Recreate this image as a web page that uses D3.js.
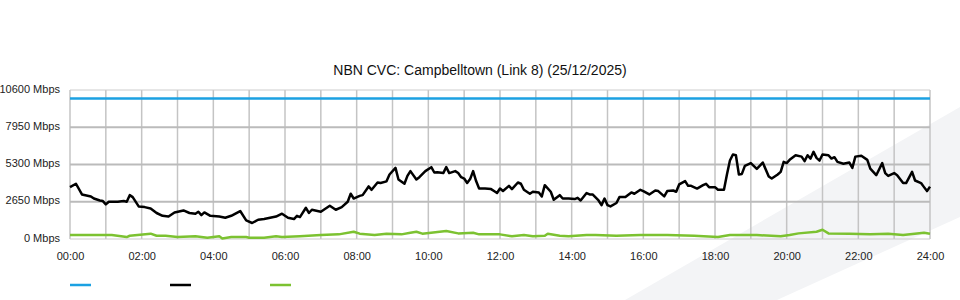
<!DOCTYPE html>
<html>
<head>
<meta charset="utf-8">
<script src="https://cdn.jsdelivr.net/npm/d3@7"></script>
<style>
  html, body { margin: 0; padding: 0; background: #fff; }
  svg { display: block; font-family: "Liberation Sans", Arial, sans-serif; }
</style>
</head>
<body>
<div id="chart"></div>
<script>
// chart data (minutes since midnight, Mbps)
const chartTitle = "NBN CVC: Campbelltown (Link 8) (25/12/2025)";
const yTickValues = [0, 2650, 5300, 7950, 10600];
const xTickMinutes = [0, 120, 240, 360, 480, 600, 720, 840, 960, 1080, 1200, 1320, 1440];

const capacityTimes = [0, 1440];
const capacityMbps = [10000, 10000];

const trafficTimes = [
  0, 10, 20, 35, 40, 50, 55, 60, 65, 80, 90, 95, 100, 105, 115, 125, 135, 145, 155, 165,
  175, 190, 200, 210, 215, 220, 225, 235, 250, 260, 270, 285, 295, 305, 315, 325, 335, 345, 355, 365,
  375, 380, 385, 395, 400, 405, 420, 435, 445, 455, 465, 470, 475, 485, 490, 500, 505, 515, 520, 530,
  535, 545, 550, 560, 565, 570, 580, 585, 595, 605, 610, 615, 625, 630, 635, 645, 650, 655, 660, 665,
  670, 675, 680, 685, 695, 705, 710, 715, 720, 725, 735, 740, 750, 755, 760, 770, 775, 785, 790, 795,
  805, 810, 820, 825, 835, 845, 850, 855, 865, 870, 875, 885, 890, 895, 900, 905, 915, 920, 930, 940,
  945, 955, 960, 970, 980, 985, 995, 1000, 1010, 1015, 1020, 1030, 1035, 1040, 1050, 1060, 1065, 1070, 1080, 1085,
  1095, 1100, 1105, 1110, 1115, 1120, 1125, 1130, 1140, 1150, 1160, 1170, 1175, 1185, 1190, 1195, 1200, 1205, 1215, 1225,
  1230, 1235, 1240, 1245, 1250, 1255, 1260, 1270, 1275, 1280, 1285, 1295, 1305, 1310, 1315, 1325, 1335, 1340, 1350, 1360,
  1365, 1370, 1380, 1385, 1395, 1400, 1410, 1415, 1425, 1430, 1435, 1440
];
const trafficMbps = [
  3690, 3930, 3170, 3030, 2880, 2740, 2700, 2460, 2650, 2650, 2700, 2650, 3120, 2980, 2320, 2270, 2170, 1850, 1650, 1600,
  1890, 2030, 1850, 1800, 1940, 1700, 1890, 1650, 1600, 1510, 1650, 1990, 1320, 1140, 1370, 1420, 1510, 1600, 1800, 1510,
  1420, 1650, 1560, 2220, 1850, 2080, 1940, 2360, 2080, 2270, 2650, 3220, 2880, 3070, 3120, 3740, 3500, 4020, 3980, 4100,
  4590, 5060, 4230, 3930, 4490, 4830, 4230, 4400, 4830, 5110, 4730, 4750, 4690, 5110, 4690, 4830, 4690, 4400, 4300, 3980,
  4260, 4830, 4120, 3590, 3590, 3550, 3410, 3270, 3590, 3410, 3780, 3550, 4020, 3930, 3500, 3220, 3360, 3310, 3030, 3830,
  3360, 2790, 3120, 2880, 2880, 2840, 2930, 2740, 3270, 3170, 3170, 2740, 2410, 2880, 2410, 2320, 2560, 2980, 2980, 3310,
  3220, 3500, 3410, 3170, 3450, 3410, 3030, 3410, 3450, 3360, 3880, 4120, 3780, 3780, 3590, 3830, 3930, 3690, 3690, 3500,
  3500, 4590, 5580, 6010, 5960, 4590, 4630, 5200, 5400, 4990, 5440, 4450, 4300, 4590, 4780, 5490, 5400, 5630, 5960, 5860,
  5540, 5960, 5720, 6200, 5770, 5580, 6010, 5960, 5720, 5820, 5490, 5350, 5440, 5060, 5860, 5920, 5630, 5010, 4540, 5400,
  4690, 4490, 4690, 4540, 3980, 3980, 4780, 4160, 3980, 3690, 3410, 3730
];

const uploadTimes = [
  0, 60, 70, 95, 100, 135, 145, 160, 180, 210, 230, 250, 255, 270, 295, 300, 325, 345, 355, 385,
  420, 450, 475, 485, 510, 530, 555, 570, 580, 590, 630, 650, 675, 685, 720, 740, 760, 775, 795, 800,
  820, 835, 865, 880, 915, 955, 1000, 1045, 1085, 1105, 1130, 1150, 1190, 1205, 1220, 1250, 1260, 1270, 1305, 1340,
  1370, 1395, 1430, 1440
];
const uploadMbps = [
  280, 280, 280, 140, 230, 380, 230, 230, 140, 190, 90, 190, 40, 140, 140, 90, 90, 190, 140, 190,
  280, 330, 520, 380, 280, 380, 330, 450, 520, 380, 570, 400, 450, 330, 330, 190, 280, 190, 230, 380,
  230, 190, 280, 280, 230, 280, 280, 230, 140, 280, 280, 280, 190, 280, 400, 520, 660, 400, 380, 330,
  380, 280, 450, 380
];

const seriesColors = ["#1ba1e2", "#000000", "#7cc231"];

const width = 960, height = 300;
const margin = { left: 70, right: 30, top: 90, bottom: 61 };

const svg = d3.select("#chart")
  .append("svg")
  .attr("width", width)
  .attr("height", height);

// faint background watermark
svg.append("path")
  .attr("d", "M625,300 L960,107 L960,217 L777,300 Z")
  .attr("fill", "#f3f4f6");

const x = d3.scaleLinear()
  .domain([0, 1440])
  .range([margin.left, width - margin.right]);

const y = d3.scaleLinear()
  .domain([0, 10600])
  .range([height - margin.bottom, margin.top]);

// grid
const grid = svg.append("g");

grid.selectAll("line.v")
  .data(d3.range(0, 1441, 60))
  .join("line")
  .attr("class", "v")
  .attr("x1", d => x(d)).attr("x2", d => x(d))
  .attr("y1", y(10600)).attr("y2", y(0))
  .attr("stroke", "#c4c4c4")
  .attr("stroke-width", 1.5);

grid.selectAll("line.h")
  .data(yTickValues)
  .join("line")
  .attr("class", "h")
  .attr("x1", x(0)).attr("x2", x(1440))
  .attr("y1", d => y(d)).attr("y2", d => y(d))
  .attr("stroke", d => (d === 0 || d === 10600) ? "#cccccc" : "#bbbbbb")
  .attr("stroke-width", d => (d === 0 || d === 10600) ? 1 : 2);

// axes text
const yAxis = svg.append("g")
  .attr("transform", `translate(${margin.left - 10},0)`)
  .call(d3.axisLeft(y).tickValues(yTickValues).tickSize(0).tickPadding(0)
    .tickFormat(d => d + " Mbps"));
yAxis.select(".domain").remove();
yAxis.selectAll("text")
  .attr("dy", "0.2em")
  .attr("fill", "#222")
  .style("font-size", "11px")
  .style("font-family", "Liberation Sans, Arial, sans-serif");

const xAxis = svg.append("g")
  .attr("transform", `translate(0,${y(0) + 13})`)
  .call(d3.axisBottom(x).tickValues(xTickMinutes).tickSize(0).tickPadding(0)
    .tickFormat(d => d3.format("02d")(d / 60) + ":00"));
xAxis.select(".domain").remove();
xAxis.selectAll("text")
  .attr("dy", "0.71em")
  .attr("fill", "#222")
  .style("font-size", "11px")
  .style("font-family", "Liberation Sans, Arial, sans-serif");

// lines
const line = d3.line()
  .x(d => x(d[0]))
  .y(d => y(d[1]));

const series = [
  d3.zip(capacityTimes, capacityMbps),
  d3.zip(trafficTimes, trafficMbps),
  d3.zip(uploadTimes, uploadMbps)
];

svg.append("path")
  .datum(series[2])
  .attr("fill", "none")
  .attr("stroke", seriesColors[2])
  .attr("stroke-width", 2.5)
  .attr("stroke-linejoin", "round")
  .attr("d", line);

svg.append("path")
  .datum(series[1])
  .attr("fill", "none")
  .attr("stroke", seriesColors[1])
  .attr("stroke-width", 2.5)
  .attr("stroke-linejoin", "round")
  .attr("d", line);

svg.append("path")
  .datum(series[0])
  .attr("fill", "none")
  .attr("stroke", seriesColors[0])
  .attr("stroke-width", 2.5)
  .attr("d", line);

// title
svg.append("text")
  .attr("x", width / 2)
  .attr("y", 75)
  .attr("text-anchor", "middle")
  .attr("fill", "#111")
  .style("font-size", "14px")
  .text(chartTitle);

// legend (swatches only)
svg.append("g")
  .selectAll("line")
  .data(seriesColors)
  .join("line")
  .attr("x1", (d, i) => 70 + i * 100)
  .attr("x2", (d, i) => 91 + i * 100)
  .attr("y1", 285).attr("y2", 285)
  .attr("stroke", d => d)
  .attr("stroke-width", 2.5);
</script>
</body>
</html>
